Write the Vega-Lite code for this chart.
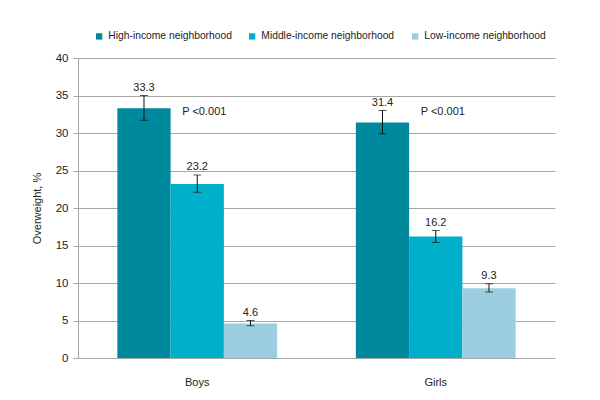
{
  "$schema": "https://vega.github.io/schema/vega-lite/v6.json",
  "width": 477,
  "height": 300,
  "autosize": {"type": "none"},
  "padding": {"left": 78, "top": 58, "right": 45, "bottom": 42},
  "config": {
    "font": "Liberation Sans",
    "view": {"stroke": null},
    "text": {"font": "Liberation Sans"},
    "axis": {"labelFont": "Liberation Sans", "titleFont": "Liberation Sans", "labelColor": "#222", "titleColor": "#222", "labelFontSize": 11.5, "titleFontSize": 11, "titleFontWeight": "normal"},
    "axisY": {"grid": true, "gridColor": "#A6A6A6", "domainColor": "#A6A6A6", "tickColor": "#A6A6A6", "tickSize": 5, "labelPadding": 5, "titlePadding": 13}
  },
  "data": {
    "values": [
      {"sex": "Boys", "group": "High-income neighborhood", "value": 33.3, "lo": 31.7, "hi": 35.0},
      {"sex": "Boys", "group": "Middle-income neighborhood", "value": 23.2, "lo": 22.1, "hi": 24.4},
      {"sex": "Boys", "group": "Low-income neighborhood", "value": 4.6, "lo": 4.3, "hi": 5.0},
      {"sex": "Girls", "group": "High-income neighborhood", "value": 31.4, "lo": 29.9, "hi": 33.0},
      {"sex": "Girls", "group": "Middle-income neighborhood", "value": 16.2, "lo": 15.4, "hi": 17.0},
      {"sex": "Girls", "group": "Low-income neighborhood", "value": 9.3, "lo": 8.8, "hi": 9.9}
    ]
  },
  "encoding": {
    "x": {"field": "sex", "type": "nominal", "scale": {"paddingInner": 0.33, "paddingOuter": 0.165},
      "axis": {"title": null, "labelAngle": 0, "ticks": false, "domain": false, "labelPadding": 18, "labelFontSize": 11}},
    "xOffset": {"field": "group", "type": "nominal", "sort": ["High-income neighborhood", "Middle-income neighborhood", "Low-income neighborhood"], "scale": {"paddingInner": 0, "paddingOuter": 0}}
  },
  "layer": [
    {
      "mark": {"type": "bar"},
      "encoding": {
        "y": {"field": "value", "type": "quantitative", "scale": {"domain": [0, 40]},
          "axis": {"title": "Overweight, %", "values": [0,5,10,15,20,25,30,35,40]}},
        "color": {"field": "group", "type": "nominal", "sort": ["High-income neighborhood", "Middle-income neighborhood", "Low-income neighborhood"],
          "scale": {"domain": ["High-income neighborhood", "Middle-income neighborhood", "Low-income neighborhood"], "range": ["#00889C", "#00AFCA", "#9BCFDF"]},
          "legend": {"title": null, "orient": "none", "legendX": 16, "legendY": -27, "direction": "horizontal", "columns": 3, "symbolType": "square", "symbolSize": 40, "symbolStrokeWidth": 0, "labelFontSize": 10.3, "labelFont": "Liberation Sans", "labelColor": "#222", "labelOffset": 4, "columnPadding": 15, "labelLimit": 300}}
      }
    },
    {
      "mark": {"type": "rule", "color": "#111", "strokeWidth": 1},
      "encoding": {
        "y": {"field": "lo", "type": "quantitative", "axis": {"title": "Overweight, %", "values": [0,5,10,15,20,25,30,35,40]}},
        "y2": {"field": "hi"}
      }
    },
    {
      "mark": {"type": "tick", "color": "#111", "thickness": 1, "size": 8},
      "encoding": {"y": {"field": "lo", "type": "quantitative", "axis": {"title": "Overweight, %", "values": [0,5,10,15,20,25,30,35,40]}}}
    },
    {
      "mark": {"type": "tick", "color": "#111", "thickness": 1, "size": 8},
      "encoding": {"y": {"field": "hi", "type": "quantitative", "axis": {"title": "Overweight, %", "values": [0,5,10,15,20,25,30,35,40]}}}
    },
    {
      "mark": {"type": "text", "baseline": "bottom", "dy": -3, "fontSize": 11, "color": "#222"},
      "encoding": {
        "y": {"field": "hi", "type": "quantitative", "axis": {"title": "Overweight, %", "values": [0,5,10,15,20,25,30,35,40]}},
        "text": {"field": "value", "type": "quantitative", "format": ".1f"}
      }
    },
    {
      "transform": [{"filter": "datum.group === 'Middle-income neighborhood'"}],
      "mark": {"type": "text", "align": "left", "baseline": "middle", "dx": -15, "fontSize": 11, "color": "#222"},
      "encoding": {
        "y": {"datum": 32.8, "type": "quantitative", "axis": {"title": "Overweight, %", "values": [0,5,10,15,20,25,30,35,40]}},
        "text": {"value": "P <0.001"}
      }
    }
  ]
}
